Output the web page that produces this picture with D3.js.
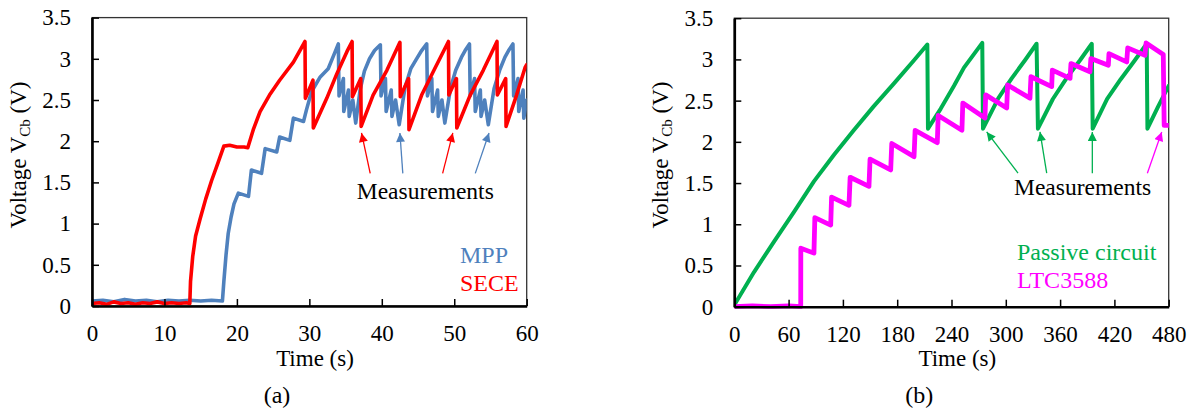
<!DOCTYPE html>
<html>
<head>
<meta charset="utf-8">
<script src="https://cdn.jsdelivr.net/npm/d3@7"></script>
<style>
  body { margin: 0; background: #fff; }
  svg text { font-family: 'Liberation Serif', Tinos, 'Times New Roman', 'DejaVu Serif', serif; fill: #000; }
</style>
</head>
<body>
<svg id="chart" width="1196" height="414"></svg>
<script>
// ---- Panel (a): storage capacitor voltage, MPP vs SECE (time in s, voltage in V)
const mppTrace = [
  [0,0.06],[1.5,0.07],[3,0.05],[4.5,0.08],[6,0.06],[7.5,0.07],[9,0.05],[10.5,0.07],[12,0.06],
  [13.5,0.07],[15,0.06],[16.5,0.07],[18,0.06],[18.2,0.3],[18.5,0.62],[18.8,0.88],[19.2,1.08],
  [19.6,1.24],[20.2,1.37],[21.6,1.33],[22.0,1.65],[23.4,1.61],[23.9,1.91],[25.5,1.87],
  [25.9,2.05],[27.3,2.01],[27.8,2.28],[29.2,2.24],[29.6,2.38],[30.3,2.6],[31.5,2.78],
  [32.6,2.88],[33.4,3.05],[34.0,3.18],
  [34.1,2.55],[34.7,2.76],[34.75,2.36],[35.4,2.62],[35.5,2.3],[36.0,2.5],[36.4,2.22],
  [37.0,2.62],[37.6,2.85],[38.3,3.0],[39.0,3.1],[39.8,3.17],
  [39.9,2.55],[40.5,2.76],[40.6,2.36],[41.3,2.62],[41.4,2.3],[41.9,2.5],[42.4,2.2],
  [43.2,2.65],[44.0,2.88],[44.8,3.0],[45.5,3.1],[46.2,3.18],
  [46.3,2.55],[46.9,2.76],[47.0,2.36],[47.7,2.62],[47.8,2.3],[48.3,2.5],[48.7,2.22],
  [49.5,2.65],[50.2,2.86],[51.0,3.02],[51.5,3.1],[52.1,3.18],
  [52.2,2.55],[52.8,2.76],[52.9,2.36],[53.6,2.62],[53.7,2.3],[54.2,2.5],[54.7,2.2],
  [55.5,2.64],[56.3,2.87],[57.0,3.02],[57.5,3.1],[58.1,3.18],
  [58.2,2.55],[58.8,2.76],[58.9,2.36],[59.5,2.62],[59.6,2.28],[60,2.5]
];
const seceTrace = [
  [0,0.03],[1,0.04],[2,0.02],[3,0.05],[4,0.03],[5,0.04],[6,0.02],[7,0.04],[8,0.03],[9,0.05],
  [10,0.03],[11,0.04],[12,0.03],[13,0.04],[13.5,0.03],[13.6,0.3],[13.9,0.6],[14.3,0.85],
  [14.9,1.05],[15.7,1.3],[16.5,1.52],[17.4,1.74],[18.2,1.94],[19,1.95],[20,1.93],[21,1.93],
  [21.5,1.92],[22.3,2.15],[23.2,2.36],[24.5,2.56],[25.9,2.74],[27.8,2.96],[29.4,3.21],
  [29.45,2.52],[30.5,2.74],[30.55,2.16],[32.4,2.52],[33.8,2.82],[35.2,3.09],[35.9,3.21],
  [35.95,2.54],[37.1,2.76],[37.15,2.18],[38.8,2.56],[40.7,2.86],[42.5,3.2],
  [42.55,2.54],[43.7,2.76],[43.75,2.14],[45.5,2.56],[47.3,2.88],[49.2,3.21],
  [49.25,2.56],[50.3,2.76],[50.35,2.16],[52.2,2.56],[54.0,2.86],[55.9,3.21],
  [55.95,2.56],[57.1,2.76],[57.15,2.18],[58.6,2.56],[59.8,2.9],[60,2.93]
];

// ---- Panel (b): passive circuit vs LTC3588
const passiveTrace = [
  [0,0.02],[21.8,0.42],[43.9,0.79],[66,1.15],[88,1.52],[110,1.84],[132,2.14],[154,2.43],
  [176.5,2.71],[198.6,2.99],[213.3,3.18],
  [214,2.16],[228,2.4],[242.8,2.68],[253.8,2.9],[274,3.2],
  [274.8,2.16],[291.8,2.53],[306.5,2.77],[321.2,2.99],[334,3.19],
  [335.5,2.16],[352,2.52],[367,2.77],[382,2.99],[395,3.19],
  [396,2.16],[412,2.52],[427,2.76],[442,2.98],[455.7,3.19],
  [456.5,2.16],[468,2.42],[480,2.68]
];
const ltcTrace = [
  [0,0.0],[20,0.01],[40,0.0],[60,0.01],[73.4,0.0],[73.5,0.71],[88,0.65],[89,1.08],
  [106.5,0.99],[107.5,1.33],[126.7,1.23],[128,1.57],[148.8,1.46],[150,1.79],[172.8,1.66],
  [174,1.98],[198.6,1.82],[199.8,2.14],[224.3,1.99],[225.3,2.32],[251.5,2.14],[252.5,2.47],
  [277,2.29],[277.8,2.57],[301,2.41],[302,2.69],[326.7,2.53],[327.8,2.79],[350.7,2.67],
  [351.4,2.87],[371,2.77],[372,2.95],[393,2.85],[394,3.01],[413.3,2.93],[414,3.07],
  [433.6,2.97],[434.7,3.14],[453.8,3.05],[455,3.2],[474,3.06],[475,2.2],[480,2.2]
];

// ---- Axis ticks
const yTicks = [0, 0.5, 1, 1.5, 2, 2.5, 3, 3.5];
const yTickLabels = ["0", "0.5", "1", "1.5", "2", "2.5", "3", "3.5"];
const xTicksA = [0, 10, 20, 30, 40, 50, 60];
const xTicksB = [0, 60, 120, 180, 240, 300, 360, 420, 480];

// ---- Annotation arrows: [tail time, tail V, head time, head V]
const arrowsA = [
  { c: "red",  p: [38.4, 1.61, 37.2, 2.1] },
  { c: "blue", p: [42.9, 1.61, 42.5, 2.1] },
  { c: "red",  p: [48.4, 1.61, 49.8, 2.1] },
  { c: "blue", p: [52.9, 1.61, 54.8, 2.1] }
];
const arrowsB = [
  { c: "green",   p: [313.5, 1.62, 278.9, 2.12] },
  { c: "green",   p: [345.2, 1.62, 337.8, 2.12] },
  { c: "green",   p: [395.6, 1.62, 395.6, 2.12] },
  { c: "magenta", p: [456.4, 1.62, 472.3, 2.12] }
];

const colors = { blue: "#4f81bd", red: "#ff0000", green: "#00b050", magenta: "#ff00ff" };
const SERIF = "'Liberation Serif', Tinos, 'Times New Roman', 'DejaVu Serif', serif";

const svg = d3.select("#chart");

// arrowhead markers, one per colour
const defs = svg.append("defs");
Object.entries(colors).forEach(([k, col]) => {
  defs.append("marker")
    .attr("id", "head-" + k)
    .attr("viewBox", "0 0 10 10")
    .attr("refX", 10).attr("refY", 5)
    .attr("markerUnits", "userSpaceOnUse")
    .attr("markerWidth", 10).attr("markerHeight", 9)
    .attr("orient", "auto")
    .append("path").attr("d", "M0,0L10,5L0,10Z").attr("fill", col);
});

function txt(sel) {
  return sel.attr("font-family", SERIF).style("font-family", SERIF);
}

function panel(cfg) {
  const { left, right, top, bottom, xMax, xTicks, series, arrows, legend, label, meas } = cfg;
  const g = svg.append("g");
  const x = d3.scaleLinear().domain([0, xMax]).range([left, right]);
  const y = d3.scaleLinear().domain([0, 3.5]).range([bottom, top]);

  // plot frame (top / right)
  g.append("rect")
    .attr("x", left).attr("y", top)
    .attr("width", right - left).attr("height", bottom - top)
    .attr("fill", "none").attr("stroke", "#333").attr("stroke-width", 1.3);

  const clipId = "clip-" + label.replace(/[()]/g, "");
  defs.append("clipPath").attr("id", clipId)
    .append("rect").attr("x", left).attr("y", top - 2)
    .attr("width", right - left).attr("height", bottom - top + 4);

  const line = d3.line().x(d => x(d[0])).y(d => y(d[1]));
  const lines = g.append("g").attr("clip-path", `url(#${clipId})`);
  series.forEach(s => {
    lines.append("path")
      .attr("d", line(s.data))
      .attr("fill", "none")
      .attr("stroke", colors[s.color])
      .attr("stroke-width", s.width)
      .attr("stroke-linejoin", "round")
      .attr("stroke-linecap", "round");
  });

  // y axis (ticks point inward)
  const yAxis = d3.axisLeft(y).tickValues(yTicks)
    .tickFormat((d, i) => yTickLabels[i])
    .tickSizeInner(-7).tickSizeOuter(0).tickPadding(21);
  const ya = g.append("g").attr("transform", `translate(${left},0)`).call(yAxis);
  // x axis
  const xAxis = d3.axisBottom(x).tickValues(xTicks).tickFormat(d3.format("d"))
    .tickSizeInner(-7).tickSizeOuter(0).tickPadding(19);
  const xa = g.append("g").attr("transform", `translate(0,${bottom})`).call(xAxis);
  [ya, xa].forEach(a => {
    a.attr("font-family", SERIF).attr("font-size", 23);
    a.select(".domain").attr("stroke", "#000").attr("stroke-width", 2.6);
    a.selectAll(".tick line").attr("stroke", "#000").attr("stroke-width", 1.5);
    txt(a.selectAll(".tick text")).attr("font-size", 23).attr("fill", "#000");
  });

  // axis titles
  txt(g.append("text"))
    .attr("x", left + 223).attr("y", 366)
    .attr("text-anchor", "middle").attr("font-size", 23)
    .text("Time (s)");
  const yl = txt(g.append("text"))
    .attr("transform", `translate(${left - 66},155) rotate(-90)`)
    .attr("text-anchor", "middle").attr("font-size", 23);
  yl.append("tspan").text("Voltage V");
  yl.append("tspan").attr("font-size", 15).attr("dy", 4).text("Cb");
  yl.append("tspan").attr("dy", -4).text(" (V)");

  // panel label
  txt(g.append("text"))
    .attr("x", left + 185).attr("y", 403)
    .attr("text-anchor", "middle").attr("font-size", 24)
    .text(label);

  // legend
  legend.forEach(l => {
    txt(g.append("text"))
      .attr("x", left + l.dx).attr("y", l.y)
      .attr("font-size", 24)
      .style("fill", colors[l.color])
      .text(l.text);
  });

  // "Measurements" annotation
  arrows.forEach(a => {
    g.append("line")
      .attr("x1", x(a.p[0])).attr("y1", y(a.p[1]))
      .attr("x2", x(a.p[2])).attr("y2", y(a.p[3]))
      .attr("stroke", colors[a.c]).attr("stroke-width", 1.3)
      .attr("marker-end", `url(#head-${a.c})`);
  });
  txt(g.append("text"))
    .attr("x", x(meas[0])).attr("y", y(meas[1]))
    .attr("text-anchor", "middle").attr("font-size", 23.5)
    .text("Measurements");
}

panel({
  left: 92, right: 526.7, top: 17.6, bottom: 306,
  xMax: 60, xTicks: xTicksA, label: "(a)",
  series: [
    { data: mppTrace, color: "blue", width: 3.6 },
    { data: seceTrace, color: "red", width: 3.6 }
  ],
  arrows: arrowsA,
  meas: [46.0, 1.3],
  legend: [
    { text: "MPP", color: "blue", dx: 368, y: 263 },
    { text: "SECE", color: "red", dx: 368, y: 291 }
  ]
});

panel({
  left: 734.3, right: 1168.7, top: 18.2, bottom: 306.7,
  xMax: 480, xTicks: xTicksB, label: "(b)",
  series: [
    { data: passiveTrace, color: "green", width: 4 },
    { data: ltcTrace, color: "magenta", width: 4.8 }
  ],
  arrows: arrowsB,
  meas: [384.8, 1.36],
  legend: [
    { text: "Passive circuit", color: "green", dx: 282.7, y: 260 },
    { text: "LTC3588", color: "magenta", dx: 282.7, y: 288 }
  ]
});
</script>
</body>
</html>
